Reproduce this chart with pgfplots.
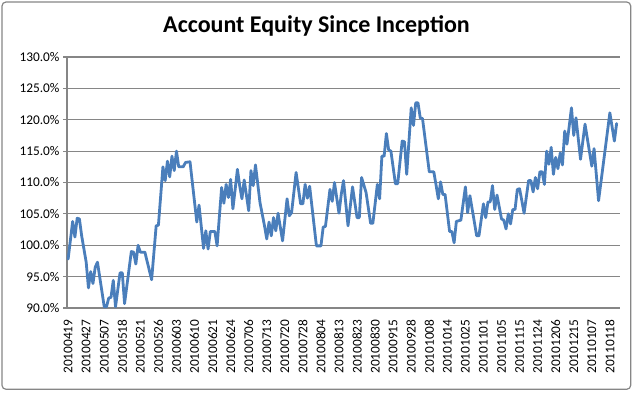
\documentclass[border=0pt]{standalone}
\usepackage{pgfplots}
\pgfplotsset{compat=1.18}
\usepackage{fontspec}
\setmainfont{Carlito}
\definecolor{gridgray}{HTML}{868686}
\definecolor{lineblue}{HTML}{4A7EBB}
\begin{document}
\begin{tikzpicture}[x=1bp,y=1bp]
\useasboundingbox (0,0) rectangle (633,392);
\draw[gridgray, line width=1.2bp, rounded corners=4bp] (2,2.7) rectangle (630.7,390);
\node[font=\fontsize{24bp}{28bp}\selectfont\bfseries] at (316.5,366) {Account Equity Since Inception};
\begin{axis}[
  at={(67bp,84bp)}, anchor=south west,
  width=553bp, height=251bp, scale only axis,
  xmin=-0.5, xmax=244.5, ymin=90, ymax=130,
  axis x line*=bottom, axis y line*=left,
  axis line style={-, draw=gridgray, line width=1.1bp},
  ytick={90,95,...,130},
  yticklabels={90.0\%,95.0\%,100.0\%,105.0\%,110.0\%,115.0\%,120.0\%,125.0\%,130.0\%},
  ymajorgrids, major grid style={draw=gridgray, line width=1.1bp},
  xtick={0,8,...,240},
  xticklabels={20100419,20100427,20100507,20100518,20100521,20100526,20100603,20100610,20100621,20100624,20100706,20100713,20100720,20100728,20100804,20100813,20100823,20100830,20100915,20100928,20101008,20101014,20101025,20101101,20101105,20101115,20101124,20101206,20101215,20110107,20110118},
  minor xtick={-0.5,0.5,...,244.5},
  tick align=outside,
  major tick length=4bp, minor tick length=5bp,
  xtick style={draw=none},
  ytick style={draw=gridgray, line width=1.1bp},
  minor tick style={draw=gridgray, line width=0.8bp},
  tick label style={font=\fontsize{13.33bp}{16bp}\selectfont, text=black},
  xticklabel style={rotate=90, anchor=east},
  xticklabel shift=4bp,
  clip=false,
]
\addplot[lineblue, line width=2.8bp, line join=round, line cap=round] coordinates {
(0,97.8)(2,103.8)(3,101.3)(4,104.3)(5,104.2)(6,101.5)(8,97.3)(9,93.2)(10,95.8)(11,93.9)(12,96.5)(13,97.3)
(16,90.2)(17,90.2)(18,91.6)(19,91.7)(20,94.4)(21,90.2)(23,95.6)(24,95.6)(25,90.7)(28,99.0)(29,98.9)(30,97.0)
(31,100.0)(32,98.9)(34,98.9)(37,94.5)(39,103.1)(40,103.2)(42,112.5)(43,110.3)(44,113.4)(45,110.9)(46,114.2)
(47,111.9)(48,115.0)(49,112.5)(51,112.5)(52,113.2)(54,113.3)(57,103.7)(58,106.4)(60,99.5)(61,102.3)(62,99.4)
(63,102.2)(65,102.2)(66,99.9)(68,109.2)(69,106.7)(70,109.7)(71,107.6)(72,110.5)(73,105.8)(74,108.9)(75,112.1)
(76,109.5)(77,107.4)(78,110.4)(80,105.5)(81,111.9)(82,109.5)(83,112.8)(85,106.8)(87,103.1)(88,101.0)(89,103.7)
(90,101.5)(91,104.4)(92,102.3)(93,105.1)(95,100.7)(97,107.4)(98,104.7)(99,105.2)(101,111.6)(103,106.6)(104,106.6)
(105,109.7)(106,107.5)(107,109.4)(110,99.9)(112,99.9)(113,102.9)(114,103.0)(116,108.9)(117,107.0)(118,110.0)
(120,105.1)(121,108.1)(122,110.3)(124,103.1)(126,109.3)(128,104.4)(129,104.4)(130,110.8)(132,108.4)(134,103.5)
(135,103.5)(137,109.7)(138,107.4)(139,114.2)(140,114.2)(141,117.8)(142,115.2)(143,115.0)(145,109.8)(146,109.8)
(148,116.6)(149,116.5)(150,111.3)(152,121.9)(153,119.1)(154,122.7)(155,122.7)(156,120.3)(157,120.2)(160,111.7)
(162,111.7)(163,109.6)(164,107.4)(165,110.1)(166,108.1)(167,108.1)(169,102.2)(170,102.2)(171,100.4)(172,103.8)
(174,104.0)(176,109.3)(177,105.2)(178,107.9)(181,101.5)(182,101.5)(184,106.6)(185,104.4)(186,106.9)(187,106.9)
(188,109.5)(189,105.7)(190,108.0)(192,104.2)(193,104.0)(194,102.6)(195,105.0)(196,103.4)(197,105.7)(198,105.7)
(199,108.9)(200,109.0)(201,107.1)(202,105.1)(204,110.3)(205,110.3)(206,108.5)(207,110.8)(208,109.0)(209,111.7)
(210,111.7)(211,109.7)(212,115.0)(213,112.9)(214,115.6)(215,111.3)(216,114.0)(217,112.2)(218,114.7)(219,112.8)
(220,118.2)(221,116.1)(223,121.9)(224,117.5)(225,120.3)(227,113.7)(229,119.3)(232,112.6)(233,115.4)(235,107.1)
(240,121.1)(242,116.6)(243,119.4)
};
\end{axis}
\end{tikzpicture}
\end{document}
